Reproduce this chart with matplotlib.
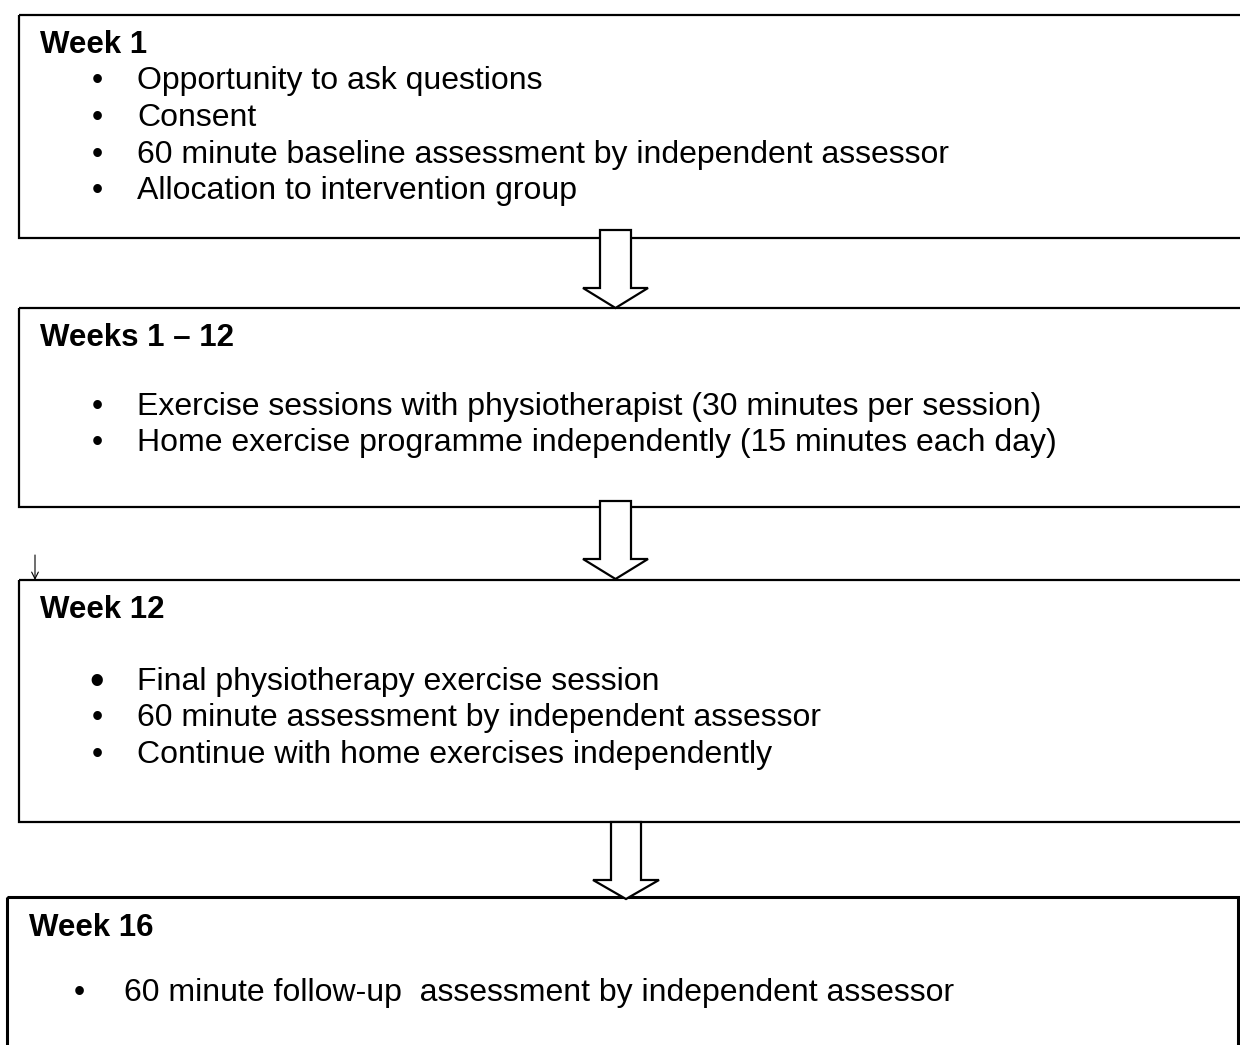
import matplotlib
matplotlib.use("Agg")
import matplotlib.pyplot as plt
from matplotlib.patches import Rectangle, Polygon

plt.rcParams["font.family"] = ["Liberation Sans", "DejaVu Sans"]

# flowchart content
titles = ["Week 1", "Weeks 1 \u2013 12", "Week 12", "Week 16"]
items_week1 = ["Opportunity to ask questions", "Consent",
               "60 minute baseline assessment by independent assessor",
               "Allocation to intervention group"]
items_weeks1_12 = ["Exercise sessions with physiotherapist (30 minutes per session)",
                   "Home exercise programme independently (15 minutes each day)"]
items_week12 = ["Final physiotherapy exercise session",
                "60 minute assessment by independent assessor",
                "Continue with home exercises independently"]
items_week16 = ["60 minute follow-up  assessment by independent assessor"]
bullet_items = [items_week1, items_weeks1_12, items_week12, items_week16]

# layout in pixels: (left, top, right, bottom)
boxes = [(19, 15, 1260, 238), (19, 308, 1260, 507), (19, 580, 1260, 822), (7, 897, 1238, 1080)]
title_xy = [(40, 45), (40, 338), (40, 610), (29, 928)]
item_rows = [[81, 118, 155, 191], [407, 443], [682, 718, 755], [993]]
bullet_x = [97, 97, 97, 79]
text_x = [137, 137, 137, 124]
# block arrows: stem left, stem right, stem top, head y, head left, head right, tip y
arrows = [(600, 631, 230, 288, 583, 648, 308),
          (600, 631, 501, 559, 583, 648, 579),
          (611, 641, 822, 880, 593, 659, 899)]

fig = plt.figure(figsize=(12.4, 10.45), dpi=100)
ax = fig.add_axes([0, 0, 1, 1])
ax.set_xlim(0, 1240)
ax.set_ylim(1045, 0)
ax.axis("off")

fs = 23
for i, (l, t, r, b) in enumerate(boxes):
    lw = 2.2 if i == 3 else 1.6
    ax.add_patch(Rectangle((l, t), r - l, b - t, fill=False, ec="black", lw=lw, zorder=1))
    ax.text(title_xy[i][0], title_xy[i][1], titles[i], fontsize=fs - 0.5, fontweight="bold",
            va="center", ha="left")
    for j, (item, y) in enumerate(zip(bullet_items[i], item_rows[i])):
        big = (i == 2 and j == 0)
        ax.text(bullet_x[i], y + (1 if big else 0), "\u2022", fontsize=fs * (1.3 if big else 1.0),
                va="center", ha="center")
        ax.text(text_x[i], y, item, fontsize=fs, va="center", ha="left")

for sl, sr, st, hy, hl, hr, ty in arrows:
    cx = (hl + hr) / 2
    pts = [(sl, st), (sr, st), (sr, hy), (hr, hy), (cx, ty), (hl, hy), (sl, hy)]
    ax.add_patch(Polygon(pts, closed=True, fc="white", ec="black", lw=1.6, zorder=3))

# small stray arrow above Week 12 box
ax.annotate("", xy=(35, 580), xytext=(35, 555),
            arrowprops=dict(arrowstyle="->", color="black", lw=0.8,
                            shrinkA=0, shrinkB=0, mutation_scale=12))

fig.savefig("out.png", dpi=100)
